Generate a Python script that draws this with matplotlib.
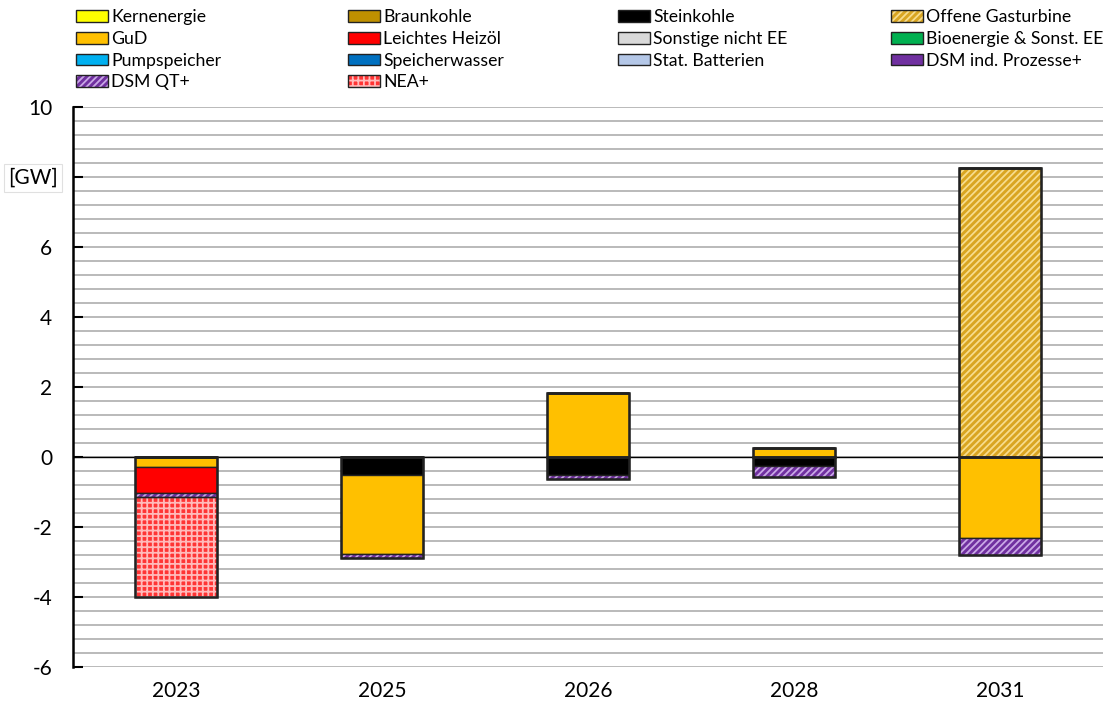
import numpy as np
import matplotlib
matplotlib.use("Agg")
import matplotlib.pyplot as plt
from matplotlib.patches import Patch
from matplotlib.lines import Line2D

plt.rcParams['font.family'] = ['Lato', 'DejaVu Sans']
plt.rcParams['hatch.linewidth'] = 1.3

# Daten (GW Veränderung je Jahr)
jahre = ['2023', '2025', '2026', '2028', '2031']
kernenergie = [0, 0, 0, 0, 0]
braunkohle = [0, 0, 0, 0, 0]
steinkohle = [0, -0.50, -0.52, -0.25, 0]
offene_gt = [0, 0, 0, 0, 8.26]
gud = [-0.29, -2.28, 1.82, 0.27, -2.32]
heizoel = [-0.74, 0, 0, 0, 0]
sonstige = [0, 0, 0, 0, 0]
bioenergie = [0, 0, 0, 0, 0]
pumpspeicher = [0, 0, 0, 0, 0]
speicherwasser = [0, 0, 0, 0, 0]
batterien = [0, 0, 0, 0, 0]
dsm_ind = [0, 0, 0, 0, 0]
dsm_qt = [-0.11, -0.10, -0.11, -0.33, -0.48]
nea = [-2.86, 0, 0, 0, 0]

# (label, werte, farbe, hatch, hatchfarbe)
serien = [
    ('Kernenergie', kernenergie, '#FFFF00', None, None),
    ('Braunkohle', braunkohle, '#BF9000', None, None),
    ('Steinkohle', steinkohle, '#000000', None, None),
    ('Offene Gasturbine', offene_gt, '#D9A521', '/////', '#F7DC8C'),
    ('GuD', gud, '#FFC000', None, None),
    ('Leichtes Heizöl', heizoel, '#FF0000', None, None),
    ('Sonstige nicht EE', sonstige, '#D9D9D9', None, None),
    ('Bioenergie & Sonst. EE', bioenergie, '#00B050', None, None),
    ('Pumpspeicher', pumpspeicher, '#00B0F0', None, None),
    ('Speicherwasser', speicherwasser, '#0070C0', None, None),
    ('Stat. Batterien', batterien, '#B4C7E7', None, None),
    ('DSM ind. Prozesse+', dsm_ind, '#7030A0', None, None),
    ('DSM QT+', dsm_qt, '#7030A0', '/////', '#C9A8E6'),
    ('NEA+', nea, '#FF3434', '+++', '#FFBABA'),
]

fig = plt.figure(figsize=(11.07, 7.02), dpi=100)
ax = fig.add_axes([73 / 1107, 1 - 667 / 702, 1030 / 1107, 560 / 702])

x = np.arange(len(jahre))
breite = 0.40
pos = np.zeros(len(jahre))
neg = np.zeros(len(jahre))
handles = []

for label, werte, farbe, hatch, hfarbe in serien:
    werte = np.array(werte, dtype=float)
    boden = np.where(werte >= 0, pos, neg)
    if hatch:
        ax.bar(x, werte, breite, bottom=boden, color=farbe, hatch=hatch,
               edgecolor=hfarbe, linewidth=0, zorder=3)
        ax.bar(x, werte, breite, bottom=boden, fill=False,
               edgecolor='#222222', linewidth=1.0, zorder=4)
        h = (Patch(facecolor=farbe, hatch=hatch, edgecolor=hfarbe, linewidth=0),
             Patch(fill=False, edgecolor='#222222', linewidth=1.0))
    else:
        ax.bar(x, werte, breite, bottom=boden, color=farbe,
               edgecolor='#222222', linewidth=1.0, zorder=3)
        h = Patch(facecolor=farbe, edgecolor='#222222', linewidth=1.0)
    handles.append((h, label))
    pos = pos + np.where(werte > 0, werte, 0)
    neg = neg + np.where(werte < 0, werte, 0)

# Umriss der gesamten Säulen
ax.bar(x, pos, breite, fill=False, edgecolor='#222222', linewidth=1.8, zorder=5)
ax.bar(x, neg, breite, fill=False, edgecolor='#222222', linewidth=1.8, zorder=5)

handles.append((Line2D([0], [0], color='white', lw=1.5), '∑ flukt. ern. Kapazität'))

ax.set_xlim(-0.5, len(jahre) - 0.5)
ax.set_ylim(-6, 10)
ax.set_xticks(x)
ax.set_xticklabels(jahre, fontsize=15)
ax.set_yticks(range(-6, 11, 2))
ax.set_yticklabels([str(v) if v != 8 else '' for v in range(-6, 11, 2)], fontsize=15)
ax.set_yticks(np.arange(-6, 10.01, 0.4), minor=True)
ax.tick_params(axis='x', length=0, pad=10)
ax.tick_params(axis='y', which='major', direction='in', length=7, width=1.5, pad=15)
ax.tick_params(axis='y', which='minor', length=0)
ax.grid(axis='y', which='both', color='#B4B4B4', linewidth=1.3, zorder=0)
ax.set_axisbelow(True)
ax.axhline(0, color='black', linewidth=1.0, zorder=2)

for s in ['top', 'right', 'bottom']:
    ax.spines[s].set_visible(False)
ax.spines['left'].set_linewidth(1.8)

fig.text(33 / 1107, 1 - 178 / 702, '[GW]', fontsize=15, ha='center', va='center',
         bbox=dict(facecolor='white', edgecolor='#E0E0E0', linewidth=0.8, pad=3))

# Legende: 4 Spalten, zeilenweise gefüllt
spalten_x = [76, 348, 618, 891]
for c in range(4):
    eintraege = handles[c::4]
    leg = fig.legend([e[0] for e in eintraege], [e[1] for e in eintraege],
                     loc='upper left', bbox_to_anchor=(spalten_x[c] / 1107, 1 - 9 / 702),
                     frameon=False, fontsize=12.7, borderpad=0, borderaxespad=0,
                     handlelength=1.8, handleheight=0.65, handletextpad=0.2,
                     labelspacing=0.33)
    for txt, e in zip(leg.get_texts(), eintraege):
        if e[1].startswith('∑'):
            txt.set_color('white')

fig.savefig('out.png', dpi=100)
